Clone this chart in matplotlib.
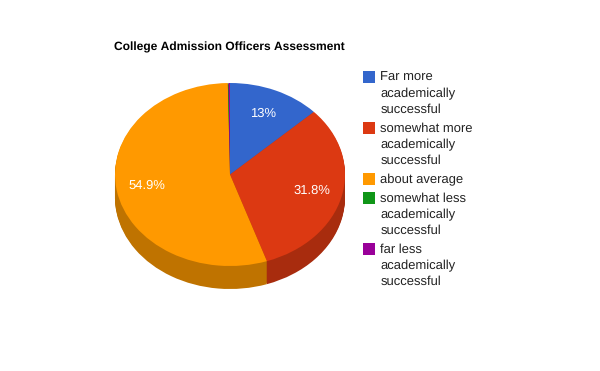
import math
import matplotlib
matplotlib.use("Agg")
import matplotlib.pyplot as plt
from matplotlib.patches import Rectangle

title = "College Admission Officers Assessment"
categories = ["Far more\nacademically\nsuccessful",
              "somewhat more\nacademically\nsuccessful",
              "about average",
              "somewhat less\nacademically\nsuccessful",
              "far less\nacademically\nsuccessful"]
values = [13.0, 31.8, 54.9, 0.1, 0.2]
value_labels = ["13%", "31.8%", "54.9%", "", ""]
colors = ["#3366cc", "#dc3912", "#ff9900", "#109618", "#990099"]
side_colors = ["#2a52a3", "#a82c0e", "#bf7300", "#0c7012", "#730073"]

W, H = 600, 371
cx, cy, rx, ry, depth = 230.0, 174.5, 115.0, 91.5, 23

plt.rcParams['font.family'] = ['Liberation Sans', 'DejaVu Sans']
plt.rcParams['text.hinting'] = 'no_hinting'
plt.rcParams['text.hinting_factor'] = 1
fig = plt.figure(figsize=(W / 100, H / 100), dpi=100)

# Pie axes: one data unit is rx pixels horizontally, ry pixels vertically
left, right = cx - 1.25 * rx, cx + 1.25 * rx
top, bottom = cy - 1.25 * ry, cy + 1.25 * ry + depth
ax = fig.add_axes([left / W, 1 - bottom / H, (right - left) / W, (bottom - top) / H])

# Side wall: the pie stacked downward in the darker colours
for d in range(depth, 0, -1):
    ax.pie(values, colors=side_colors, startangle=90, counterclock=False,
           center=(0, -d / ry), radius=1.0, wedgeprops=dict(linewidth=0))

# Top face
ax.pie(values, colors=colors, startangle=90, counterclock=False,
       center=(0, 0), radius=1.0, wedgeprops=dict(linewidth=0))

ax.set_aspect('auto')
ax.set_xlim(-1.25, 1.25)
ax.set_ylim(-1.25 - depth / ry, 1.25)

# Value labels
cum = 0.0
total = sum(values)
for v, lab in zip(values, value_labels):
    mid = 90 - (cum + v / 2) / total * 360
    cum += v
    if lab:
        ax.text(0.73 * math.cos(math.radians(mid)), 0.73 * math.sin(math.radians(mid)), lab,
                color='white', fontsize=9.0, ha='center', va='center')

# Overlay in pixel coordinates for title and legend
ov = fig.add_axes([0, 0, 1, 1])
ov.set_xlim(0, W)
ov.set_ylim(H, 0)
ov.axis('off')
ov.patch.set_alpha(0)

ov.text(114.5, 50, title, fontsize=8.45, fontweight='bold', color='black', va='baseline', ha='left')

y = 70
for cat, col in zip(categories, colors):
    ov.add_patch(Rectangle((363, y + 1), 12, 12, facecolor=col, edgecolor='none'))
    lines = cat.split("\n")
    for i, line in enumerate(lines):
        ov.text(380.5, y + 11.3 + i * 16, line, fontsize=9.0, color='#222222', va='baseline', ha='left')
    y += 16 * len(lines) + 3

fig.savefig("out.png", dpi=100, facecolor='white')
